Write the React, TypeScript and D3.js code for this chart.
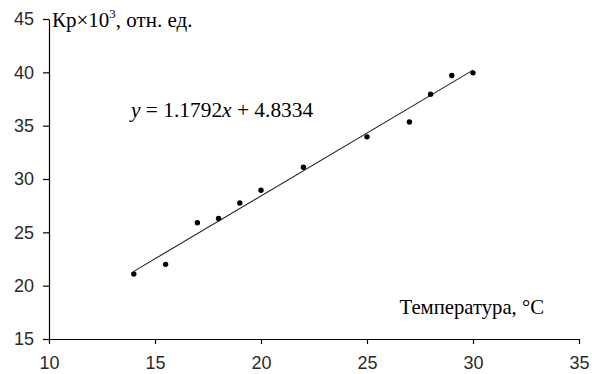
import React, { useEffect, useRef } from "react";
import * as d3 from "d3";

// measured points (temperature, Kp x 10^3)
const tempValues = [14, 15.5, 17, 18, 19, 20, 22, 25, 27, 28, 29, 30];
const kpValues = [21.1, 22.0, 25.9, 26.3, 27.75, 28.95, 31.1, 33.95, 35.35, 37.95, 39.7, 39.95];
const xTicks = [10, 15, 20, 25, 30, 35];
const yTicks = [15, 20, 25, 30, 35, 40, 45];
const slope = 1.1792;
const intercept = 4.8334;

const svgWidth = 592;
const svgHeight = 374;

export default function App() {
  const ref = useRef<SVGSVGElement>(null);

  useEffect(() => {
    const svg = d3.select(ref.current);
    svg.selectAll("*").remove();

    const xScale = d3.scaleLinear().domain([10, 35]).range([49, 579]);
    const yScale = d3.scaleLinear().domain([15, 45]).range([339, 19]);

    // axes
    const xAxis = svg.append("g")
      .attr("transform", "translate(0," + yScale(15) + ")")
      .call(d3.axisBottom(xScale).tickValues(xTicks).tickSize(5).tickPadding(12).tickSizeOuter(0));
    const yAxis = svg.append("g")
      .attr("transform", "translate(" + xScale(10) + ",0)")
      .call(d3.axisLeft(yScale).tickValues(yTicks).tickSize(6).tickPadding(9).tickSizeOuter(0));

    [xAxis, yAxis].forEach(function (g: any) {
      g.select(".domain").attr("stroke", "#000").attr("stroke-width", 1.2);
      g.selectAll(".tick line").attr("stroke", "#000").attr("stroke-width", 1.2);
      g.selectAll(".tick text")
        .attr("font-family", "'Liberation Sans', Arial, sans-serif")
        .attr("font-size", 18)
        .attr("fill", "#2a2a2a");
    });

    // trendline
    const x0 = d3.min(tempValues) as number;
    const x1 = d3.max(tempValues) as number;
    svg.append("line")
      .attr("x1", xScale(x0))
      .attr("y1", yScale(slope * x0 + intercept))
      .attr("x2", xScale(x1))
      .attr("y2", yScale(slope * x1 + intercept))
      .attr("stroke", "#222")
      .attr("stroke-width", 1.1);

    // points
    svg.selectAll("circle.pt")
      .data(tempValues)
      .enter()
      .append("circle")
      .attr("class", "pt")
      .attr("cx", function (d: number) { return xScale(d); })
      .attr("cy", function (d: number, i: number) { return yScale(kpValues[i]); })
      .attr("r", 2.7)
      .attr("fill", "#000");

    const serif = "'Liberation Serif', 'Times New Roman', serif";

    // y title
    const yt = svg.append("text")
      .attr("x", 52)
      .attr("y", 27)
      .attr("font-family", serif)
      .attr("font-size", 21)
      .attr("fill", "#000");
    yt.append("tspan").text("Кр×10");
    yt.append("tspan").attr("font-size", 13).attr("dy", -9).text("3");
    yt.append("tspan").attr("dy", 9).text(", отн. ед.");

    // equation
    const eq = svg.append("text")
      .attr("x", 131)
      .attr("y", 117)
      .attr("font-family", serif)
      .attr("font-size", 21.4)
      .attr("fill", "#000");
    eq.append("tspan").attr("font-style", "italic").text("y");
    eq.append("tspan").text(" = " + slope + "");
    eq.append("tspan").attr("font-style", "italic").text("x");
    eq.append("tspan").text(" + " + intercept);

    // x title
    svg.append("text")
      .attr("x", 544)
      .attr("y", 314)
      .attr("text-anchor", "end")
      .attr("font-family", serif)
      .attr("font-size", 20.7)
      .attr("fill", "#000")
      .text("Температура, °С");
  }, []);

  return (
    <svg
      ref={ref}
      width={svgWidth}
      height={svgHeight}
      style={{ position: "absolute", left: 0, top: 0, background: "#fff" }}
    />
  );
}
